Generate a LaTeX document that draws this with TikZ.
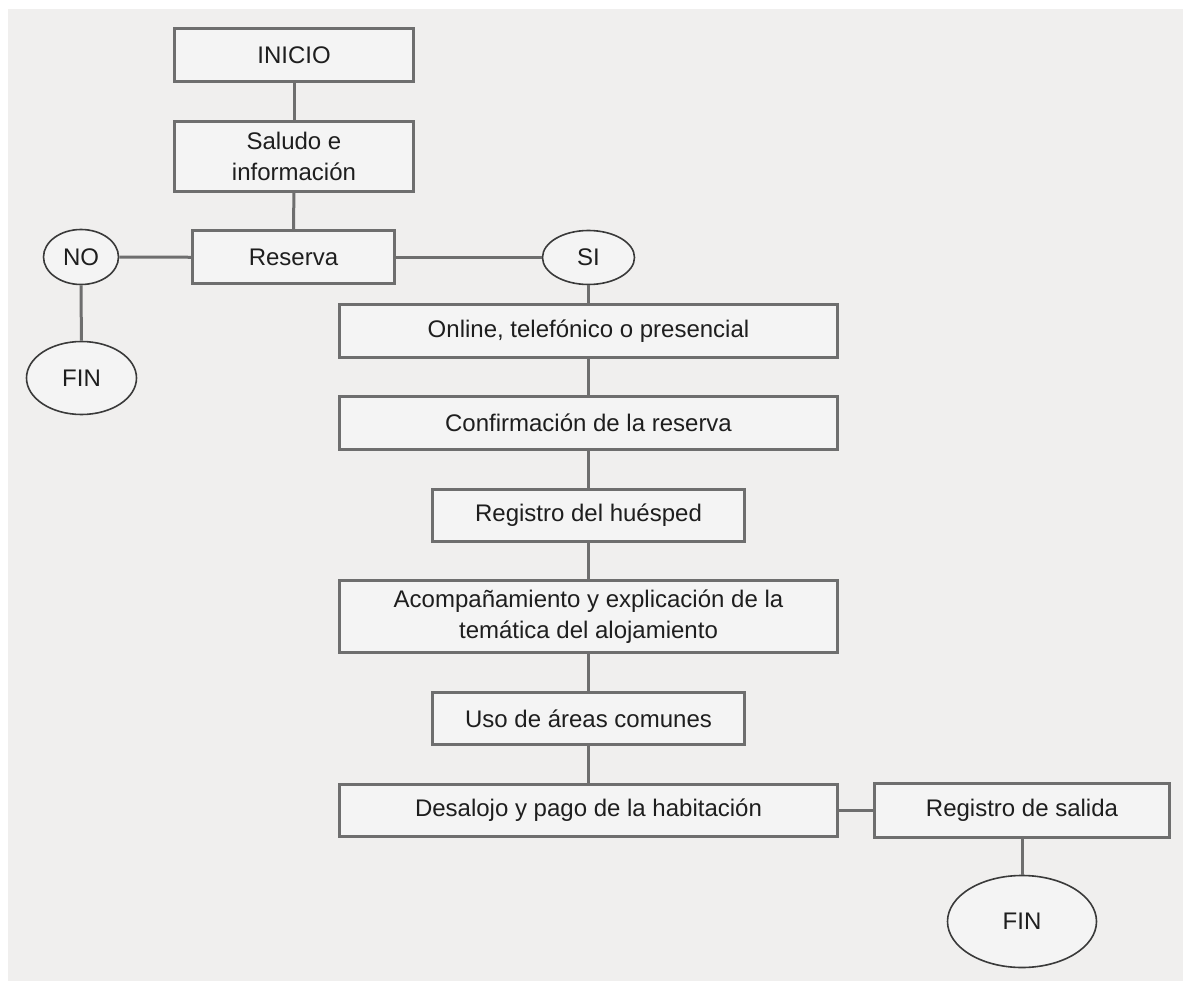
\documentclass[tikz,border=0pt]{standalone}
\usepackage{fontspec}
\setmainfont{Liberation Sans}
\usetikzlibrary{shapes.geometric}
\definecolor{bgc}{HTML}{F0EFEE}
\definecolor{boxfill}{HTML}{F4F4F4}
\definecolor{boxline}{HTML}{6E6E6E}
\definecolor{ellline}{HTML}{3A3A3A}
\definecolor{txt}{HTML}{1E1E1E}
\tikzset{
  procbox/.style={draw=boxline, line width=3pt, fill=boxfill, inner sep=0pt,
    text=txt, align=center, font=\fontsize{24}{31.5}\selectfont},
  termell/.style={ellipse, draw=ellline, line width=1.6pt, fill=boxfill, inner sep=0pt,
    text=txt, font=\fontsize{24}{31.5}\selectfont},
  link/.style={draw=boxline, line width=3pt}
}
\begin{document}
\begin{tikzpicture}[x=1pt, y=-1pt]
\useasboundingbox (0,0) rectangle (1183,981);
\fill[bgc] (8,9) rectangle (1195,995);

\node[procbox, minimum width=239pt, minimum height=53pt] (inicio) at (294,55.5) {INICIO};
\node[procbox, minimum width=239pt, minimum height=70pt] (saludo) at (294,156.5) {Saludo e\\información};
\node[procbox, minimum width=202pt, minimum height=53pt] (reserva) at (293.5,257.5) {Reserva};
\node[termell, minimum width=75pt, minimum height=55pt] (no) at (81,257) {NO};
\node[termell, minimum width=110pt, minimum height=73pt] (fin1) at (81.5,378) {FIN};
\node[termell, minimum width=92pt, minimum height=54pt] (si) at (588.5,257.5) {SI};
\node[procbox, minimum width=498pt, minimum height=53pt] (online) at (588.5,331) {Online, telefónico o presencial};
\node[procbox, minimum width=498pt, minimum height=53pt] (confirm) at (588.5,423) {Confirmación de la reserva};
\node[procbox, minimum width=312pt, minimum height=52pt] (registro) at (588.5,515.5) {Registro del huésped};
\node[procbox, minimum width=498pt, minimum height=72pt] (acomp) at (588.5,616.5) {Acompañamiento y explicación de la\\temática del alojamiento};
\node[procbox, minimum width=312pt, minimum height=52pt] (uso) at (588.5,718.5) {Uso de áreas comunes};
\node[procbox, minimum width=498pt, minimum height=52pt] (desalojo) at (588.5,810.5) {Desalojo y pago de la habitación};
\node[procbox, minimum width=295pt, minimum height=54pt] (salida) at (1022,810.5) {Registro de salida};
\node[termell, minimum width=149pt, minimum height=92pt] (fin2) at (1022,921.5) {FIN};

\draw[link] (inicio) -- (saludo);
\draw[link] (saludo) -- (reserva);
\draw[link] (reserva) -- (no);
\draw[link] (no) -- (fin1);
\draw[link] (reserva) -- (si);
\draw[link] (si) -- (online);
\draw[link] (online) -- (confirm);
\draw[link] (confirm) -- (registro);
\draw[link] (registro) -- (acomp);
\draw[link] (acomp) -- (uso);
\draw[link] (uso) -- (desalojo);
\draw[link] (desalojo) -- (salida);
\draw[link] (salida) -- (fin2);
\end{tikzpicture}
\end{document}
